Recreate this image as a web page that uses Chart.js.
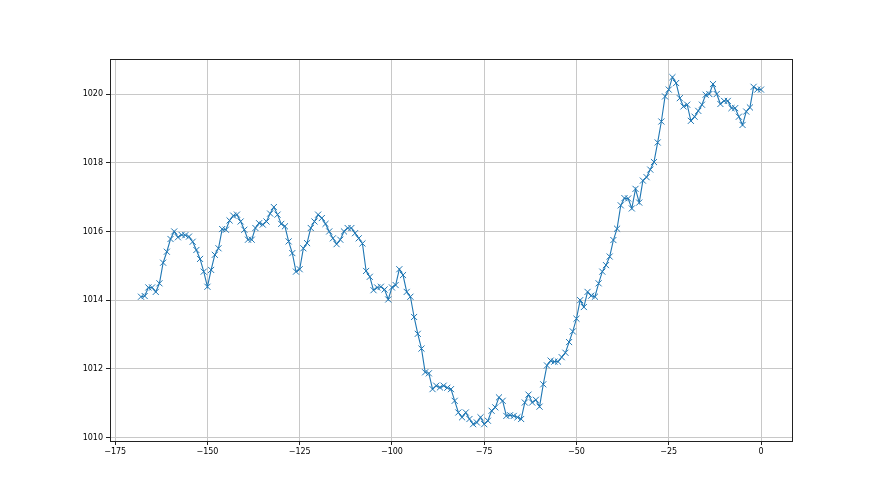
<!DOCTYPE html>
<html>
<head>
<meta charset="utf-8">
<script src="https://cdn.jsdelivr.net/npm/chart.js@4"></script>
<style>
  html, body { margin: 0; padding: 0; background: #fff; }
  #wrap { width: 880px; height: 495px; position: relative; }
</style>
</head>
<body>
<div id="wrap"><canvas id="pressureChart"></canvas></div>
<script>
// hours before now
const hours = [
  -168, -167, -166, -165, -164, -163, -162, -161, -160, -159, -158, -157, -156, -155, -154, -153, -152, -151, -150, -149,
  -148, -147, -146, -145, -144, -143, -142, -141, -140, -139, -138, -137, -136, -135, -134, -133, -132, -131, -130, -129,
  -128, -127, -126, -125, -124, -123, -122, -121, -120, -119, -118, -117, -116, -115, -114, -113, -112, -111, -110, -109,
  -108, -107, -106, -105, -104, -103, -102, -101, -100, -99, -98, -97, -96, -95, -94, -93, -92, -91, -90, -89,
  -88, -87, -86, -85, -84, -83, -82, -81, -80, -79, -78, -77, -76, -75, -74, -73, -72, -71, -70, -69,
  -68, -67, -66, -65, -64, -63, -62, -61, -60, -59, -58, -57, -56, -55, -54, -53, -52, -51, -50, -49,
  -48, -47, -46, -45, -44, -43, -42, -41, -40, -39, -38, -37, -36, -35, -34, -33, -32, -31, -30, -29,
  -28, -27, -26, -25, -24, -23, -22, -21, -20, -19, -18, -17, -16, -15, -14, -13, -12, -11, -10, -9,
  -8, -7, -6, -5, -4, -3, -2, -1, 0
];

// pressure (hPa)
const pressure = [
  1014.10, 1014.12, 1014.37, 1014.37, 1014.24, 1014.49, 1015.09, 1015.41, 1015.78, 1016.00,
  1015.83, 1015.90, 1015.89, 1015.85, 1015.70, 1015.46, 1015.20, 1014.83, 1014.39, 1014.88,
  1015.32, 1015.51, 1016.07, 1016.05, 1016.32, 1016.46, 1016.49, 1016.29, 1016.05, 1015.76,
  1015.76, 1016.10, 1016.24, 1016.20, 1016.29, 1016.52, 1016.71, 1016.49, 1016.22, 1016.15,
  1015.71, 1015.37, 1014.83, 1014.90, 1015.51, 1015.66, 1016.10, 1016.29, 1016.49, 1016.39,
  1016.22, 1016.00, 1015.80, 1015.63, 1015.76, 1016.00, 1016.10, 1016.10, 1015.95, 1015.80,
  1015.65, 1014.85, 1014.68, 1014.29, 1014.37, 1014.39, 1014.31, 1014.02, 1014.37, 1014.44,
  1014.90, 1014.73, 1014.24, 1014.10, 1013.51, 1013.02, 1012.59, 1011.90, 1011.87, 1011.41,
  1011.51, 1011.46, 1011.51, 1011.45, 1011.41, 1011.07, 1010.73, 1010.59, 1010.73, 1010.54,
  1010.39, 1010.44, 1010.59, 1010.39, 1010.49, 1010.78, 1010.88, 1011.17, 1011.07, 1010.63,
  1010.65, 1010.63, 1010.59, 1010.54, 1011.02, 1011.25, 1011.02, 1011.10, 1010.90, 1011.55,
  1012.10, 1012.24, 1012.21, 1012.21, 1012.34, 1012.47, 1012.78, 1013.09, 1013.46, 1014.00,
  1013.80, 1014.24, 1014.13, 1014.10, 1014.49, 1014.83, 1015.02, 1015.27, 1015.75, 1016.08,
  1016.76, 1016.97, 1016.96, 1016.67, 1017.24, 1016.84, 1017.48, 1017.58, 1017.80, 1018.02,
  1018.59, 1019.20, 1019.93, 1020.13, 1020.49, 1020.32, 1019.88, 1019.64, 1019.69, 1019.22,
  1019.34, 1019.51, 1019.69, 1019.98, 1020.00, 1020.29, 1020.00, 1019.71, 1019.80, 1019.80,
  1019.59, 1019.59, 1019.34, 1019.10, 1019.49, 1019.61, 1020.21, 1020.13, 1020.13
];

const xTicks = [-175, -150, -125, -100, -75, -50, -25, 0];
const yTicks = [1010, 1012, 1014, 1016, 1018, 1020];

const points = hours.map((h, i) => ({ x: h, y: pressure[i] }));

// marco completo alrededor del área (estilo matplotlib)
const frame = {
  id: 'frame',
  afterDraw(chart) {
    const a = chart.chartArea;
    const ctx = chart.ctx;
    ctx.save();
    ctx.strokeStyle = '#222';
    ctx.lineWidth = 1;
    ctx.strokeRect(Math.round(a.left) + 0.5, Math.round(a.top) + 0.5,
      Math.round(a.right - a.left), Math.round(a.bottom - a.top));
    ctx.restore();
  }
};

const minus = v => String(v).replace('-', '\u2212');

const ctx = document.getElementById('pressureChart').getContext('2d');
new Chart(ctx, {
  type: 'line',
  data: {
    datasets: [{
      data: points,
      borderColor: '#1f77b4',
      borderWidth: 1.1,
      pointStyle: 'crossRot',
      pointRadius: 4.3,
      pointBorderColor: '#1f77b4',
      pointBorderWidth: 1,
      pointBackgroundColor: 'transparent',
      tension: 0,
      fill: false
    }]
  },
  options: {
    responsive: true,
    maintainAspectRatio: false,
    animation: false,
    layout: { padding: { top: 59, right: 88, bottom: 0, left: 0 } },
    plugins: { legend: { display: false }, tooltip: { enabled: false } },
    scales: {
      x: {
        type: 'linear',
        min: -176.4,
        max: 8.4,
        afterBuildTicks: s => { s.ticks = xTicks.map(v => ({ value: v })); },
        afterFit: s => { s.height = 54; },
        border: { display: false },
        grid: { color: '#c8c8c8', lineWidth: 1, tickLength: 4, tickColor: '#222' },
        ticks: {
          color: '#000',
          padding: 2,
          maxRotation: 0,
          font: { family: 'DejaVu Sans', size: 8 },
          callback: v => minus(v)
        }
      },
      y: {
        min: 1009.9,
        max: 1021.02,
        afterBuildTicks: s => { s.ticks = yTicks.map(v => ({ value: v })); },
        afterFit: s => { s.width = 110; },
        border: { display: false },
        grid: { color: '#c8c8c8', lineWidth: 1, tickLength: 4, tickColor: '#222' },
        ticks: {
          color: '#000',
          padding: 3,
          font: { family: 'DejaVu Sans', size: 8 },
          callback: v => String(v)
        }
      }
    }
  },
  plugins: [frame]
});
</script>
</body>
</html>
